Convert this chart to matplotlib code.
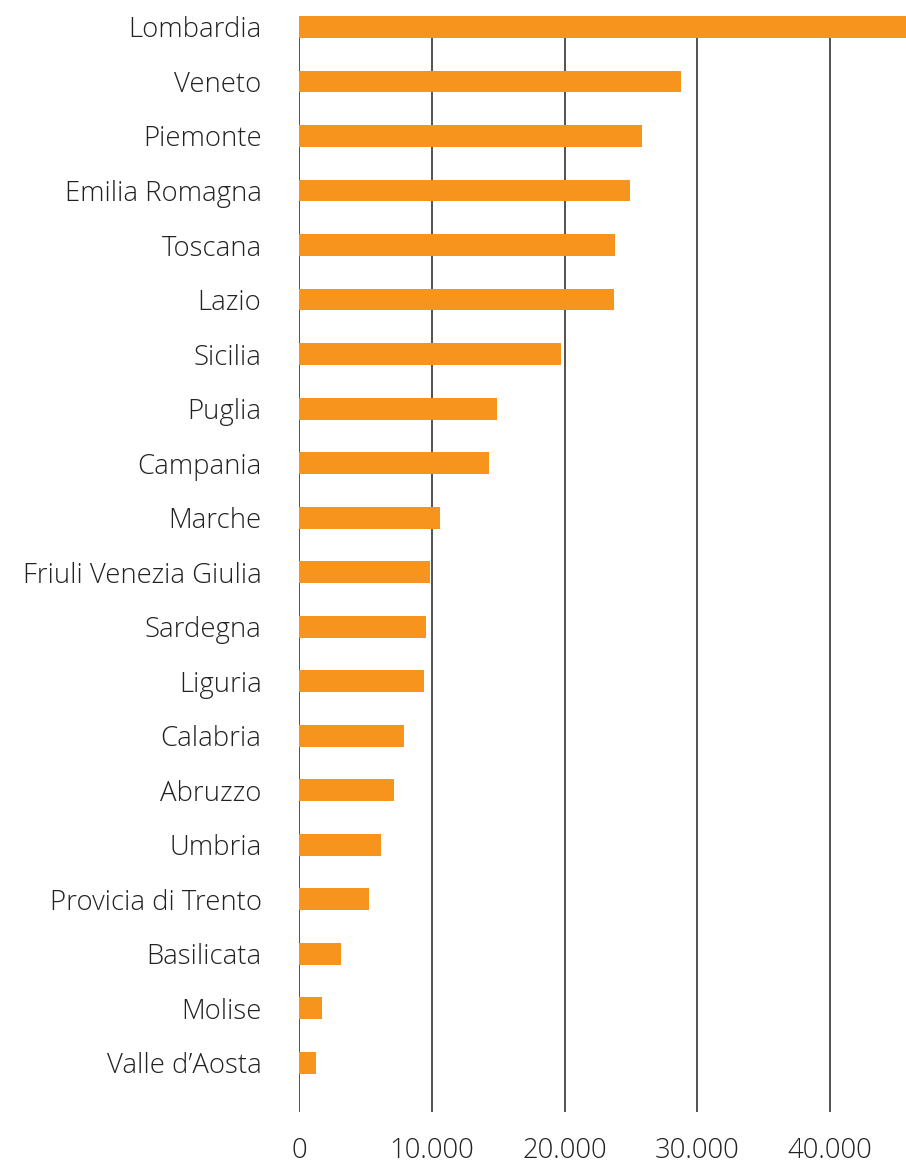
import matplotlib

matplotlib.use("Agg")
import matplotlib.pyplot as plt

regions = [
    "Lombardia", "Veneto", "Piemonte", "Emilia Romagna", "Toscana", "Lazio",
    "Sicilia", "Puglia", "Campania", "Marche", "Friuli Venezia Giulia",
    "Sardegna", "Liguria", "Calabria", "Abruzzo", "Umbria",
    "Provicia di Trento", "Basilicata", "Molise", "Valle d\u2019Aosta",
]
values = [
    47000, 28800, 25850, 24950, 23800, 23730,
    19750, 14920, 14310, 10620, 9870,
    9570, 9420, 7910, 7160, 6180,
    5270, 3160, 1730, 1280,
]
x_ticks = [0, 10000, 20000, 30000, 40000]
x_tick_labels = ["0", "10.000", "20.000", "30.000", "40.000"]

BAR_COLOR = "#F7941D"
TEXT_COLOR = "#222222"

plt.rcParams["font.family"] = ["Open Sans", "DejaVu Sans"]

fig = plt.figure(figsize=(9.06, 11.66), dpi=100)
ax = fig.add_axes([299 / 906, 54 / 1166, 607 / 906, 1096 / 1166])

ypos = list(range(len(regions)))
ax.barh(ypos, values, height=0.4, color=BAR_COLOR, zorder=3)

ax.set_xlim(0, 45720)
ax.set_ylim(19.9, -0.2)

ax.set_xticks(x_ticks)
ax.set_xticklabels(x_tick_labels)
ax.set_yticks(ypos)
ax.set_yticklabels(regions)

ax.tick_params(axis="both", length=0, labelsize=19.8, colors=TEXT_COLOR)
ax.tick_params(axis="x", pad=18)
ax.tick_params(axis="y", pad=27)
for lbl in ax.get_xticklabels() + ax.get_yticklabels():
    lbl.set_fontweight("light")

for x in x_ticks:
    ax.axvline(x, color="#222222", linewidth=1.1, zorder=1)

for spine in ax.spines.values():
    spine.set_visible(False)

fig.savefig("out.png", dpi=100)
plt.close(fig)
